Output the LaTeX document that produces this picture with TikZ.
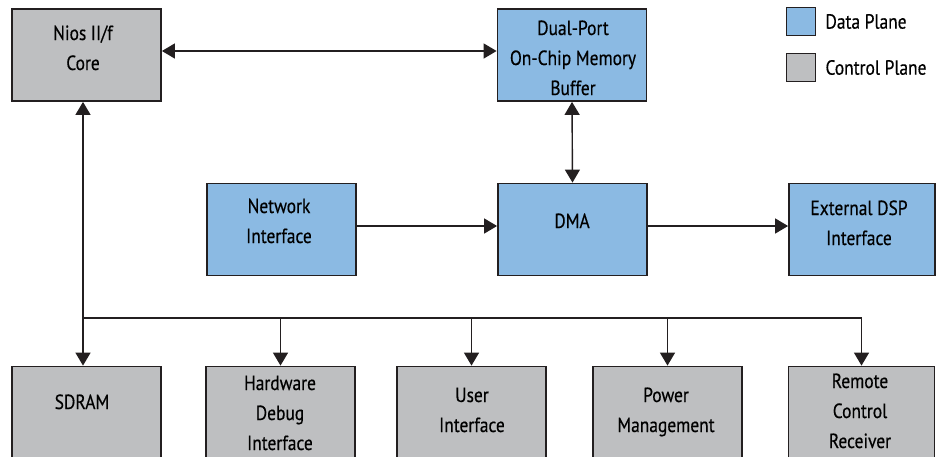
\documentclass[tikz,border=0pt]{standalone}
\usepackage{fontspec}
\setmainfont{PT Sans}[FakeStretch=0.85,FakeBold=0.4]
\usetikzlibrary{arrows.meta,positioning}
\definecolor{datacol}{RGB}{139,186,227}
\definecolor{ctrlcol}{RGB}{190,191,193}
\definecolor{edgecol}{RGB}{35,31,32}

\begin{document}
\begin{tikzpicture}[x=1pt,y=-1pt,
  tip/.style={-{Triangle[length=13pt,width=15pt]}},
  tips/.style={{Triangle[length=13pt,width=15pt]}-{Triangle[length=13pt,width=15pt]}},
  blk/.style={draw=edgecol,line width=1.8pt,minimum width=149pt,minimum height=92pt,inner sep=0pt},
  dblk/.style={blk,fill=datacol},
  cblk/.style={blk,fill=ctrlcol},
  key/.style={minimum width=29pt,minimum height=28pt,line width=1.6pt},
  txt/.style={font=\fontsize{20.5}{30}\selectfont,align=center,anchor=base,inner sep=0pt},
  wire/.style={draw=edgecol,line width=1.4pt}]
  \useasboundingbox (0,0) rectangle (936,456);
  % blocks, data plane and control plane
  \node[cblk] (nios)  at (86.5,55)    {};
  \node[dblk] (dport) at (572,55)     {};
  \node[dblk] (net)   at (281.5,229.5){};
  \node[dblk] (dma)   at (572.5,229.5){};
  \node[dblk,minimum width=146pt] (ext) at (862,229.5){};
  \foreach \n/\x in {sdram/86.5,hdbg/280.5,user/471.5,pwr/667.5}
     {\node[cblk] (\n) at (\x,412.5){};}
  \node[cblk,minimum width=146pt] (rcr) at (861.5,412.5){};
  % block texts (placed at the baseline of the last line)
  \node[txt] (niost)  at (83,70)   {Nios II/f\\Core};
  \node[txt] (dportt) at (573,95)  {Dual-Port\\On-Chip Memory\\Buffer};
  \node[txt] (nett)   at (279,243) {Network\\Interface};
  \node[txt] (dmat)   at (572,228) {DMA};
  \node[txt] (extt)   at (859,245) {External DSP\\Interface};
  \node[txt] (sdramt) at (82,409)  {SDRAM};
  \node[txt] (hdbgt)  at (280,450) {Hardware\\Debug\\Interface};
  \node[txt] (usert)  at (472,432) {User\\Interface};
  \node[txt] (pwrt)   at (666,432) {Power\\Management};
  \node[txt] (rcrt)   at (860,448) {Remote\\Control\\Receiver};
  % legend
  \node[dblk,key] (dkey) at (801,21.5) {};
  \node[cblk,key] (ckey) at (801,67.5) {};
  \node[txt,anchor=west,right=9pt of dkey] (dkeyt) {Data Plane};
  \node[txt,anchor=west,right=9pt of ckey] (ckeyt) {Control Plane};
  % connectors
  \draw[wire,tips] ([yshift=4pt]nios.east) -- ([yshift=4pt]dport.west);
  \draw[wire,tips] (dport.south) -- (dma.north);
  \draw[wire,tip] ([yshift=3.5pt]net.east) -- ([yshift=3.5pt]dma.west);
  \draw[wire,tip] ([yshift=3.5pt]dma.east) -- ([yshift=3.5pt]ext.west);
  \coordinate (bus) at (83,318);
  \draw[wire,tips] (nios.south -| bus) -- (sdram.north -| bus);
  \draw[wire] (bus) -- (rcr.north |- bus);
  \draw[wire,tip] (hdbg.north |- bus) -- (hdbg.north);
  \draw[wire,tip] (user.north |- bus) -- (user.north);
  \draw[wire,tip] (pwr.north |- bus) -- (pwr.north);
  \draw[wire,tip] (rcr.north |- bus) -- (rcr.north);
\end{tikzpicture}
\end{document}
